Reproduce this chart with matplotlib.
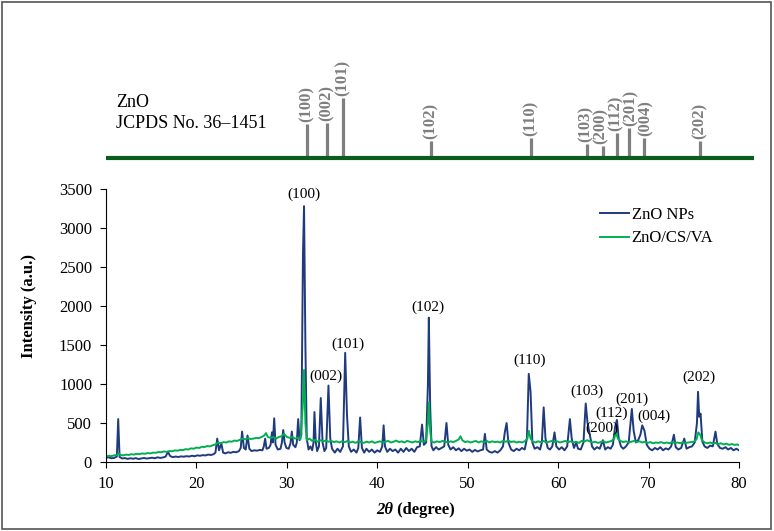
"""XRD patterns of ZnO NPs and ZnO/CS/VA with the JCPDS 36-1451 reference sticks."""

from __future__ import annotations

import matplotlib

matplotlib.use("Agg")
import matplotlib.pyplot as plt
from matplotlib.patches import Rectangle
import numpy as np


OUTPUT_FILE = "out.png"

ZNO_NP = [
    (10.0, 55), (10.3, 60), (10.6, 48), (10.9, 52), (11.2, 70), (11.35, 550), (11.5, 65),
    (11.8, 45), (12.1, 50), (12.4, 40), (12.7, 48), (13.0, 42), (13.3, 50), (13.6, 38),
    (13.9, 45), (14.2, 52), (14.5, 44), (14.8, 50), (15.1, 55), (15.4, 48), (15.7, 60),
    (16.0, 52), (16.3, 58), (16.6, 70), (16.85, 130), (17.1, 75), (17.4, 62), (17.7, 70),
    (18.0, 64), (18.3, 72), (18.6, 68), (18.9, 75), (19.2, 70), (19.5, 80), (19.8, 74),
    (20.1, 85), (20.4, 80), (20.7, 88), (21.0, 84), (21.3, 95), (21.6, 90), (21.9, 100),
    (22.1, 120), (22.3, 300), (22.5, 150), (22.75, 240), (22.95, 120), (23.2, 110),
    (23.5, 125), (23.8, 118), (24.1, 130), (24.4, 125), (24.7, 140), (24.9, 180),
    (25.05, 390), (25.25, 180), (25.45, 160), (25.65, 340), (25.85, 170), (26.1, 140),
    (26.4, 150), (26.7, 145), (27.0, 155), (27.3, 150), (27.45, 200), (27.6, 300),
    (27.75, 170), (28.0, 180), (28.2, 220), (28.35, 380), (28.45, 250), (28.6, 560),
    (28.75, 220), (29.0, 160), (29.3, 170), (29.45, 250), (29.6, 410), (29.75, 250),
    (29.95, 180), (30.2, 170), (30.4, 240), (30.55, 390), (30.7, 220), (30.95, 190),
    (31.1, 250), (31.25, 550), (31.4, 280), (31.6, 350), (31.78, 2650), (31.9, 3280),
    (32.05, 1500), (32.2, 300), (32.4, 160), (32.6, 200), (32.8, 150), (32.95, 250),
    (33.05, 640), (33.2, 250), (33.35, 140), (33.55, 200), (33.75, 820), (33.95, 250),
    (34.15, 140), (34.35, 180), (34.6, 980), (34.8, 300), (35.0, 170), (35.3, 120),
    (35.6, 170), (35.9, 130), (36.2, 200), (36.45, 1400), (36.65, 600), (36.85, 200),
    (37.1, 130), (37.4, 160), (37.7, 120), (37.9, 180), (38.1, 570), (38.3, 180),
    (38.55, 120), (38.8, 170), (39.1, 130), (39.4, 160), (39.7, 120), (40.0, 150),
    (40.3, 130), (40.55, 200), (40.7, 470), (40.85, 200), (41.1, 130), (41.4, 170),
    (41.7, 140), (42.0, 160), (42.3, 120), (42.6, 170), (42.9, 130), (43.2, 180),
    (43.5, 140), (43.8, 170), (44.1, 130), (44.4, 190), (44.7, 200), (44.95, 480),
    (45.15, 220), (45.4, 250), (45.6, 1000), (45.7, 1850), (45.85, 700), (46.0, 200),
    (46.2, 150), (46.5, 190), (46.8, 160), (47.1, 180), (47.4, 200), (47.65, 500),
    (47.85, 220), (48.1, 160), (48.4, 190), (48.7, 150), (49.0, 175), (49.3, 140),
    (49.6, 170), (49.9, 145), (50.2, 160), (50.5, 130), (50.8, 155), (51.1, 135),
    (51.4, 150), (51.7, 160), (51.9, 360), (52.1, 160), (52.4, 130), (52.7, 120),
    (53.0, 140), (53.3, 120), (53.6, 150), (53.9, 200), (54.1, 380), (54.3, 500),
    (54.5, 250), (54.8, 160), (55.1, 140), (55.4, 170), (55.7, 150), (56.0, 180),
    (56.3, 160), (56.55, 300), (56.75, 1130), (56.95, 900), (57.15, 250), (57.4, 170),
    (57.7, 190), (58.0, 160), (58.2, 250), (58.4, 700), (58.6, 300), (58.85, 180),
    (59.1, 160), (59.35, 200), (59.6, 380), (59.8, 200), (60.1, 160), (60.4, 190),
    (60.7, 150), (61.0, 200), (61.3, 550), (61.5, 300), (61.75, 180), (62.0, 250),
    (62.2, 170), (62.5, 160), (62.8, 250), (63.05, 750), (63.25, 500), (63.5, 350),
    (63.75, 200), (64.0, 160), (64.3, 190), (64.6, 170), (64.95, 280), (65.2, 160),
    (65.5, 190), (65.8, 170), (66.05, 220), (66.3, 450), (66.5, 540), (66.7, 300),
    (66.95, 200), (67.2, 170), (67.5, 200), (67.8, 250), (68.15, 680), (68.35, 400),
    (68.6, 250), (68.85, 280), (69.1, 350), (69.3, 470), (69.55, 400), (69.8, 220),
    (70.1, 170), (70.4, 150), (70.7, 180), (71.0, 160), (71.3, 190), (71.6, 150),
    (71.9, 175), (72.2, 160), (72.5, 200), (72.8, 350), (73.0, 190), (73.3, 160),
    (73.6, 180), (73.95, 300), (74.2, 170), (74.5, 190), (74.8, 200), (75.1, 250),
    (75.35, 500), (75.47, 900), (75.6, 580), (75.75, 620), (75.95, 260), (76.2, 200),
    (76.5, 180), (76.8, 210), (77.1, 200), (77.4, 390), (77.6, 230), (77.9, 180),
    (78.2, 170), (78.5, 190), (78.8, 160), (79.1, 180), (79.4, 150), (79.7, 170),
    (80.0, 150),
]

# measured pattern, ZnO/CS/VA composite
ZNO_CS_VA = [
    (10.0, 70), (10.3, 80), (10.6, 75), (10.9, 85), (11.2, 90), (11.4, 110), (11.6, 90),
    (11.9, 85), (12.2, 95), (12.5, 90), (12.8, 100), (13.1, 95), (13.4, 105), (13.7, 100),
    (14.0, 110), (14.3, 105), (14.6, 115), (14.9, 110), (15.2, 120), (15.5, 118),
    (15.8, 128), (16.1, 125), (16.4, 135), (16.7, 130), (17.0, 140), (17.3, 138),
    (17.6, 148), (17.9, 145), (18.2, 155), (18.5, 152), (18.8, 165), (19.1, 160),
    (19.4, 175), (19.7, 170), (20.0, 185), (20.3, 180), (20.6, 195), (20.9, 192),
    (21.2, 205), (21.5, 200), (21.8, 215), (22.1, 225), (22.4, 250), (22.7, 240),
    (23.0, 255), (23.3, 250), (23.6, 265), (23.9, 260), (24.2, 275), (24.5, 270),
    (24.8, 285), (25.1, 300), (25.4, 290), (25.7, 305), (26.0, 295), (26.3, 300),
    (26.6, 310), (26.9, 305), (27.2, 320), (27.5, 340), (27.7, 370), (27.9, 320),
    (28.2, 310), (28.5, 320), (28.8, 300), (29.1, 320), (29.4, 330), (29.7, 360),
    (30.0, 320), (30.3, 310), (30.6, 320), (30.9, 300), (31.2, 310), (31.5, 290),
    (31.75, 700), (31.9, 1180), (32.05, 500), (32.2, 280), (32.5, 300), (32.8, 270),
    (33.1, 285), (33.4, 260), (33.7, 280), (34.0, 265), (34.3, 275), (34.6, 260),
    (34.9, 270), (35.2, 255), (35.5, 265), (35.8, 250), (36.1, 265), (36.4, 255),
    (36.7, 270), (37.0, 250), (37.3, 260), (37.6, 245), (37.9, 265), (38.2, 255),
    (38.5, 245), (38.8, 260), (39.1, 250), (39.4, 265), (39.7, 245), (40.0, 255),
    (40.3, 265), (40.6, 250), (40.9, 260), (41.2, 270), (41.5, 250), (41.8, 260),
    (42.1, 275), (42.4, 255), (42.7, 265), (43.0, 250), (43.3, 270), (43.6, 260),
    (43.9, 250), (44.2, 265), (44.5, 255), (44.8, 270), (45.1, 260), (45.4, 280),
    (45.6, 500), (45.7, 760), (45.85, 400), (46.0, 260), (46.3, 250), (46.6, 265),
    (46.9, 255), (47.2, 270), (47.5, 260), (47.8, 250), (48.1, 265), (48.4, 255),
    (48.7, 270), (49.0, 290), (49.2, 330), (49.4, 280), (49.7, 255), (50.0, 265),
    (50.3, 250), (50.6, 260), (50.9, 270), (51.2, 250), (51.5, 265), (51.8, 255),
    (52.1, 270), (52.4, 250), (52.7, 265), (53.0, 255), (53.3, 260), (53.6, 250),
    (53.9, 270), (54.2, 260), (54.5, 275), (54.8, 255), (55.1, 265), (55.4, 250),
    (55.7, 260), (56.0, 250), (56.3, 265), (56.6, 300), (56.75, 400), (56.95, 300),
    (57.2, 260), (57.5, 250), (57.8, 265), (58.1, 255), (58.4, 270), (58.7, 250),
    (59.0, 260), (59.3, 270), (59.6, 255), (59.9, 265), (60.2, 250), (60.5, 260),
    (60.8, 270), (61.1, 255), (61.4, 265), (61.7, 250), (62.0, 260), (62.3, 245),
    (62.6, 270), (62.9, 260), (63.2, 280), (63.5, 265), (63.8, 250), (64.1, 260),
    (64.4, 245), (64.7, 255), (65.0, 265), (65.3, 250), (65.6, 260), (65.9, 270),
    (66.2, 300), (66.4, 380), (66.6, 300), (66.9, 270), (67.2, 255), (67.5, 265),
    (67.8, 250), (68.1, 260), (68.4, 270), (68.7, 255), (69.0, 265), (69.3, 250),
    (69.6, 260), (69.9, 245), (70.2, 255), (70.5, 240), (70.8, 250), (71.1, 245),
    (71.4, 255), (71.7, 240), (72.0, 250), (72.3, 240), (72.6, 255), (72.9, 245),
    (73.2, 250), (73.5, 240), (73.8, 255), (74.1, 245), (74.4, 250), (74.7, 255),
    (75.0, 260), (75.3, 290), (75.5, 380), (75.7, 350), (75.9, 280), (76.2, 250),
    (76.5, 240), (76.8, 250), (77.1, 235), (77.4, 245), (77.7, 230), (78.0, 240),
    (78.3, 225), (78.6, 235), (78.9, 220), (79.2, 230), (79.5, 220), (79.8, 225),
    (80.0, 215),
]

# reference sticks (JCPDS 36-1451), drawn at the observed peak positions
REF_HKL = ["(100)", "(002)", "(101)", "(102)", "(110)", "(103)",
           "(200)", "(112)", "(201)", "(004)", "(202)"]
REF_POS = [32.23, 34.44, 36.21, 45.94, 57.0, 63.19, 64.96, 66.51, 67.84, 69.5, 75.69]
REF_REL = [57, 58, 100, 28, 33, 23, 20, 42, 50, 33, 28]
# small sideways nudges so the crowded labels near 63-70 deg do not collide
REF_NUDGE = [0, 0, 0, 0, 0, -0.2, -0.22, -0.12, 0.15, 0.15, 0]

# peak labels on the measured pattern: text, 2theta, intensity
PEAK_LABELS = ["(100)", "(002)", "(101)", "(102)", "(110)", "(103)",
               "(200)", "(112)", "(201)", "(004)", "(202)"]
PEAK_X = [31.9, 34.27, 36.7, 45.64, 56.81, 63.15, 64.8, 65.92, 68.13, 70.6, 75.58]
PEAK_Y = [3436, 1094, 1513, 1983, 1299, 901, 432, 624, 808, 590, 1081]

X_TICKS = [10, 20, 30, 40, 50, 60, 70, 80]
Y_TICKS = [0, 500, 1000, 1500, 2000, 2500, 3000, 3500]

BLUE = "#1f3a7d"
GREEN = "#00b050"
DARK_GREEN = "#0b5d1e"
GREY = "#7f7f7f"

W, H = 774, 531


def fx(px: float) -> float:
    return px / W


def fy(py: float) -> float:
    return (H - py) / H


def build_figure() -> plt.Figure:
    plt.rcParams["font.family"] = ["Liberation Serif", "DejaVu Serif"]
    fig = plt.figure(figsize=(W / 100, H / 100), dpi=100)

    # --- reference stick panel
    top = fig.add_axes([fx(106), fy(158), fx(739) - fx(106), fy(40) - fy(158)])
    top.set_xlim(10, 80)
    top.set_ylim(0, 197)
    top.axis("off")
    top.plot([10, 81.66], [0, 0], color=DARK_GREEN, lw=3.0, clip_on=False,
             solid_capstyle="butt", zorder=3)
    for hkl, pos, rel, nudge in zip(REF_HKL, REF_POS, REF_REL, REF_NUDGE):
        top.plot([pos, pos], [0, rel], color=GREY, lw=2.3, solid_capstyle="butt",
                 zorder=2)
        top.text(pos + nudge, rel + 3, hkl, rotation=90, ha="center", va="bottom",
                 color=GREY, fontsize=12, fontweight="bold")
    fig.text(fx(116), fy(107), "ZnO", fontsize=13, va="baseline")
    fig.text(fx(116), fy(128), "JCPDS No. 36\u20131451", fontsize=13, va="baseline")

    # --- measured patterns
    ax = fig.add_axes([fx(106), fy(462), fx(739) - fx(106), fy(189) - fy(462)])
    np_arr = np.array(ZNO_NP)
    cs_arr = np.array(ZNO_CS_VA)
    ax.plot(np_arr[:, 0], np_arr[:, 1], color=BLUE, lw=1.4, label="ZnO NPs")
    ax.plot(cs_arr[:, 0], cs_arr[:, 1], color=GREEN, lw=1.4, label="ZnO/CS/VA")

    for text, x, y in zip(PEAK_LABELS, PEAK_X, PEAK_Y):
        ax.text(x, y, text, ha="center", va="center", fontsize=11)

    ax.set_xlim(10, 80)
    ax.set_ylim(0, 3500)
    ax.set_xticks(X_TICKS)
    ax.set_yticks(Y_TICKS)
    ax.tick_params(direction="out", length=4, width=0.8, labelsize=12, pad=6)
    for side in ("top", "right"):
        ax.spines[side].set_visible(False)
    for side in ("left", "bottom"):
        ax.spines[side].set_linewidth(0.8)

    fig.text(fx(29), fy(306), "Intensity (a.u.)", rotation=90, ha="center",
             va="center", fontsize=12, fontweight="bold")
    fig.text(fx(393), fy(510), "2\u03b8", ha="right", va="center", fontsize=12,
             fontweight="bold", fontstyle="italic")
    fig.text(fx(393), fy(510), " (degree)", ha="left", va="center", fontsize=12,
             fontweight="bold")

    fig.legend(loc="upper left", bbox_to_anchor=(fx(600), fy(207)), frameon=False,
               fontsize=12, handlelength=1.75, handletextpad=0.15, borderpad=0,
               borderaxespad=0, labelspacing=0.45)

    # thin frame round the whole picture
    fig.patches.append(Rectangle((0.002, 0.004), 0.994, 0.993, transform=fig.transFigure,
                                 fill=False, edgecolor="#555555", lw=1.2))
    return fig


if __name__ == "__main__":
    figure = build_figure()
    figure.savefig(OUTPUT_FILE, dpi=100)
    plt.close(figure)
